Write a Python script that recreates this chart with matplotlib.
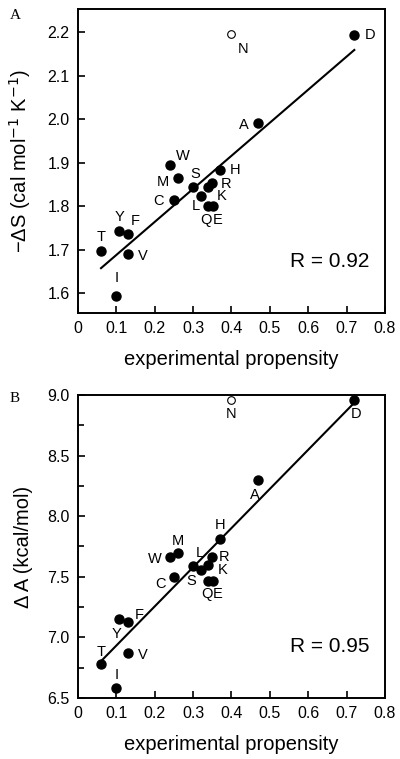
import numpy as np
import matplotlib
matplotlib.use('Agg')
from matplotlib import pyplot as plt

plt.rcParams['font.family'] = ['Liberation Sans', 'DejaVu Sans']

# аминокислоты и экспериментальная склонность (общая для обеих панелей)
residues = ['T', 'I', 'Y', 'F', 'V', 'W', 'C', 'M', 'S', 'L', 'K', 'Q', 'R', 'E', 'H', 'A', 'D']
propensity = [0.06, 0.10, 0.107, 0.13, 0.13, 0.24, 0.25, 0.26, 0.30, 0.32, 0.34, 0.338, 0.35, 0.352, 0.37, 0.47, 0.72]

# панель A: -dS
minus_ds = [1.697, 1.593, 1.743, 1.737, 1.691, 1.894, 1.815, 1.865, 1.844, 1.823, 1.844, 1.801, 1.853, 1.801,
            1.884, 1.992, 2.194]
# панель B: dA
delta_a = [6.78, 6.58, 7.15, 7.13, 6.875, 7.66, 7.50, 7.696, 7.585, 7.558, 7.60, 7.467, 7.665, 7.467,
           7.81, 8.30, 8.957]

# выпадающая точка N (открытый кружок)
n_x = [0.40]
n_ds = [2.195]
n_da = [8.957]

# линии регрессии (концы)
fit_a_x, fit_a_y = [0.06, 0.72], [1.658, 2.159]
fit_b_x, fit_b_y = [0.062, 0.715], [6.81, 8.92]

r_a = 'R = 0.92'
r_b = 'R = 0.95'

# смещения подписей в пикселях (dx вправо, dy вниз)
offs_a = {'T': (0, -14), 'I': (0, -18), 'Y': (0, -14), 'F': (7, -13), 'V': (15, 2), 'W': (13, -9),
          'C': (-15, 1), 'M': (-15, 4), 'S': (2, -13), 'L': (-5, 10), 'K': (13, 9), 'Q': (-2, 14),
          'R': (14, 1), 'E': (5, 14), 'H': (15, 0), 'A': (-15, 2), 'D': (16, 0), 'N': (12, 15)}
offs_b = {'T': (0, -12), 'I': (0, -13), 'Y': (-3, 15), 'F': (11, -7), 'V': (15, 2), 'W': (-15, 2),
          'C': (-13, 7), 'M': (0, -12), 'S': (-2, 15), 'L': (-1, -17), 'K': (14, 5), 'Q': (-1, 13),
          'R': (12, 0), 'E': (5, 13), 'H': (0, -14), 'A': (-4, 15), 'D': (2, 14), 'N': (0, 14)}

fig = plt.figure(figsize=(4.0, 7.59), dpi=100)
ax1 = fig.add_axes([0.195, 0.5876, 0.7675, 0.4005])
ax2 = fig.add_axes([0.195, 0.0804, 0.7675, 0.3992])


def draw(ax, y, ny, fx, fy, offs, rtext):
    ax.plot(fx, fy, color='black', lw=1.5, zorder=2)
    ax.plot(propensity, y, 'o', color='black', ms=6.5, zorder=3)
    ax.plot(n_x, ny, 'o', mfc='white', mec='black', mew=0.8, ms=5.5, zorder=3)
    for name, xx, yy in list(zip(residues, propensity, y)) + [('N', n_x[0], ny[0])]:
        dx, dy = offs[name]
        ax.annotate(name, (xx, yy), xytext=(dx, -dy), textcoords='offset pixels',
                    ha='center', va='center', fontsize=10.5)
    ax.text(0.82, 0.17, rtext, transform=ax.transAxes, ha='center', va='center', fontsize=15)
    ax.set_xlim(0, 0.8)
    ax.set_xticks(np.arange(0, 0.81, 0.1))
    ax.set_xticklabels(['0'] + ['%.1f' % v for v in np.arange(0.1, 0.81, 0.1)])
    ax.tick_params(direction='in', length=5, width=1.2, labelsize=11.5, pad=6)
    ax.tick_params(which='minor', direction='in', length=4, width=1.2)
    for s in ax.spines.values():
        s.set_linewidth(1.4)
    ax.set_xlabel('experimental propensity', fontsize=14.5, labelpad=10)


draw(ax1, minus_ds, n_ds, fit_a_x, fit_a_y, offs_a, r_a)
ax1.set_ylim(1.555, 2.253)
ax1.set_yticks(np.arange(1.6, 2.21, 0.1))
ax1.set_yticklabels(['%.1f' % v for v in np.arange(1.6, 2.21, 0.1)])
ax1.set_ylabel('\u2212\u0394S (cal mol$^{-1}$ K$^{-1}$)', fontsize=14.5, labelpad=10)

draw(ax2, delta_a, n_da, fit_b_x, fit_b_y, offs_b, r_b)
ax2.set_ylim(6.5, 9.0)
ax2.set_yticks(np.arange(6.5, 9.01, 0.5))
ax2.set_yticklabels(['%.1f' % v for v in np.arange(6.5, 9.01, 0.5)])
ax2.set_yticks(np.arange(6.75, 9.0, 0.5), minor=True)
ax2.set_ylabel('\u0394 A (kcal/mol)', fontsize=14.5, labelpad=10)

fig.text(0.0375, 0.98, 'A', family='Liberation Serif', fontsize=11, ha='center', va='center')
fig.text(0.0375, 0.4756, 'B', family='Liberation Serif', fontsize=11, ha='center', va='center')

fig.savefig('out.png', dpi=100)
